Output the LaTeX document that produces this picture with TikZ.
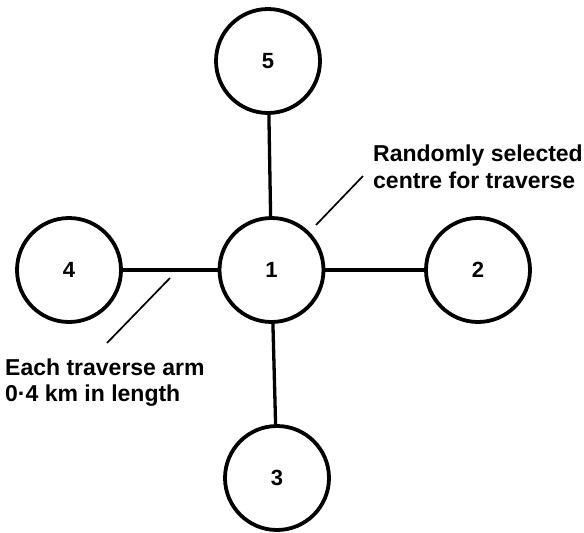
\documentclass[tikz,border=0pt]{standalone}
\usepackage{fontspec}
\setmainfont{Liberation Sans}
\begin{document}
\begin{tikzpicture}[x=1pt,y=-1pt,
  site/.style={circle,draw,line width=3.8pt,minimum size=104pt,inner sep=0pt,font=\fontsize{22}{22}\selectfont\bfseries},
  arm/.style={line width=3.3pt},
  leader/.style={line width=1.7pt},
  note/.style={anchor=base west,inner sep=0pt,font=\fontsize{23}{26.5}\selectfont\bfseries}]
\useasboundingbox (0,0) rectangle (584,533);
\node[site] (n5) at (268,61) {5};
\node[site] (n1) at (271.5,270) {1};
\node[site] (n2) at (478,270) {2};
\node[site] (n3) at (277,478) {3};
\node[site] (n4) at (69,270) {4};
\draw[arm] (n5) -- (n1);
\draw[arm] (n1) -- (n3);
\draw[arm] (n4) -- (n1);
\draw[arm] (n1) -- (n2);
\node[note] (cen) at (373,161.5) {\begin{tabular}[t]{@{}l@{}}Randomly selected\\[0pt]centre for traverse\end{tabular}};
\node[note] (arml) at (5,375) {\begin{tabular}[t]{@{}l@{}}Each traverse arm\\[0pt]0·4 km in length\end{tabular}};
\coordinate (c1a) at (363,176);
\coordinate (c1b) at (316,225);
\coordinate (c2a) at (170,278);
\coordinate (c2b) at (107,343);
\draw[leader] (c1a) -- (c1b);
\draw[leader] (c2a) -- (c2b);
\end{tikzpicture}
\end{document}
